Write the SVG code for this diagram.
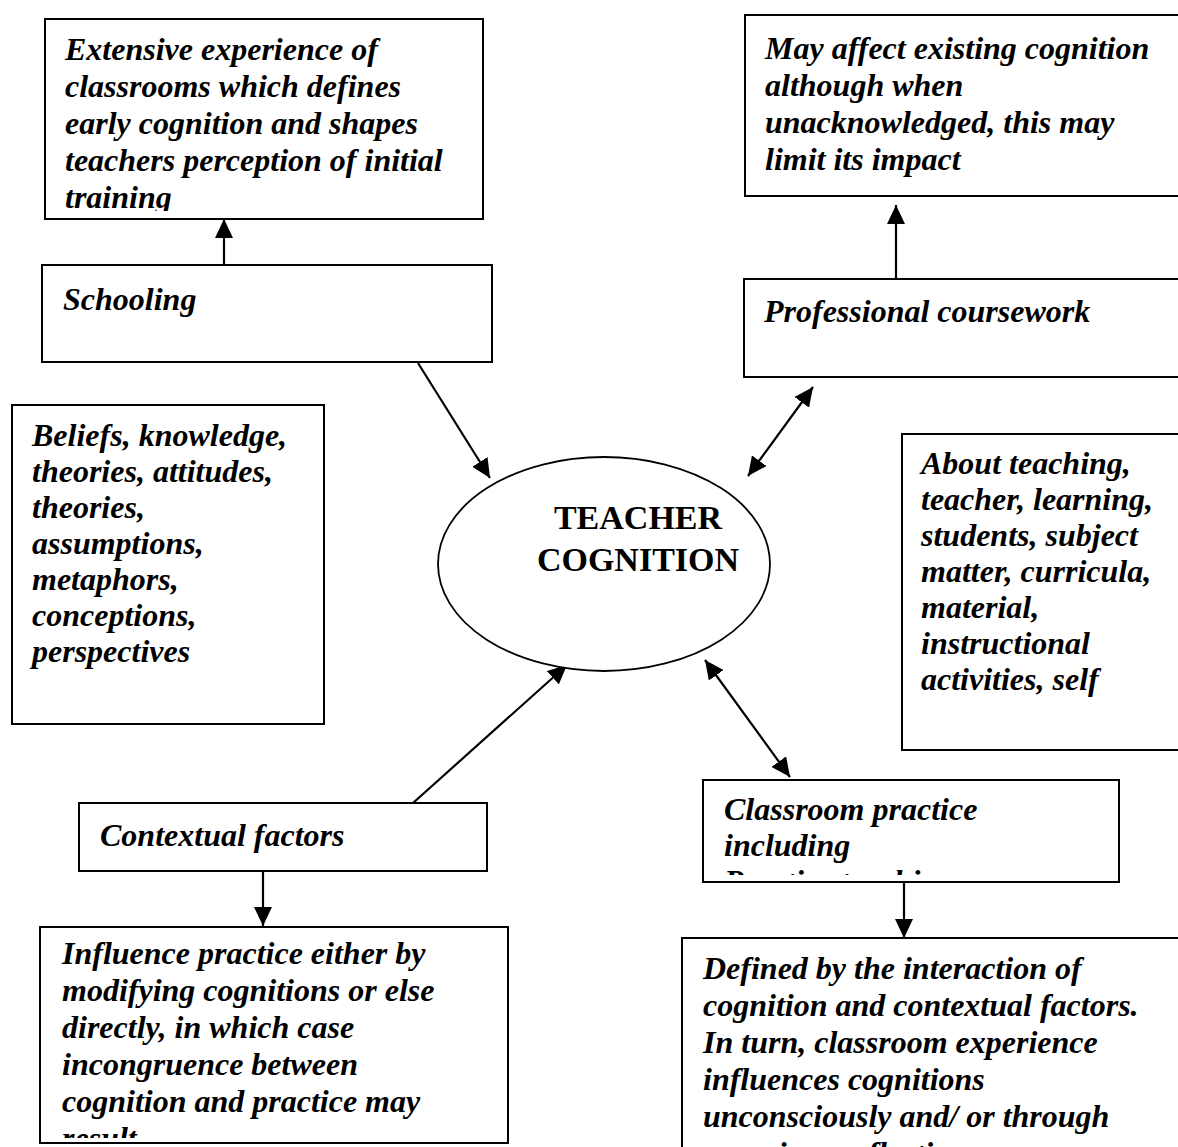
<svg xmlns="http://www.w3.org/2000/svg" width="1178" height="1147" viewBox="0 0 1178 1147">
  <style>
    .box { fill: #fff; stroke: #000; stroke-width: 2; }
    .note { font-family: "Liberation Serif", "Times New Roman", serif; font-size: 32px; font-weight: bold; font-style: italic; fill: #000; }
    .title { font-family: "Liberation Serif", "Times New Roman", serif; font-size: 34px; font-weight: bold; fill: #000; text-anchor: middle; }
    .link { stroke: #000; stroke-width: 2.2; fill: none; }
  </style>
  <defs>
    <marker id="head" viewBox="0 0 19 18" refX="19" refY="9" markerWidth="19" markerHeight="18" markerUnits="userSpaceOnUse" orient="auto-start-reverse">
      <path d="M0,0 L19,9 L0,18 Z" fill="#000"/>
    </marker>
    <clipPath id="clip-schooling-note"><rect x="46" y="20" width="436" height="191"/></clipPath>
    <clipPath id="clip-classroom"><rect x="704" y="781" width="414" height="94"/></clipPath>
    <clipPath id="clip-contextual-note"><rect x="41" y="928" width="466" height="210"/></clipPath>
  </defs>

  <rect width="1178" height="1147" fill="#fff"/>

  <!-- connectors -->
  <g id="connectors">
    <line class="link" x1="224" y1="265" x2="224" y2="219" marker-end="url(#head)"/>
    <line class="link" x1="418" y1="363" x2="490" y2="478" marker-end="url(#head)"/>
    <line class="link" x1="896" y1="279" x2="896" y2="205" marker-end="url(#head)"/>
    <line class="link" x1="748" y1="476" x2="813" y2="387" marker-start="url(#head)" marker-end="url(#head)"/>
    <line class="link" x1="705" y1="660" x2="790" y2="777" marker-start="url(#head)" marker-end="url(#head)"/>
    <line class="link" x1="413" y1="803" x2="567" y2="665" marker-end="url(#head)"/>
    <line class="link" x1="263" y1="871" x2="263" y2="926" marker-end="url(#head)"/>
    <line class="link" x1="904" y1="883" x2="904" y2="938" marker-end="url(#head)"/>
  </g>

  <!-- central concept -->
  <g id="teacher-cognition">
    <ellipse cx="604" cy="564" rx="166" ry="107" fill="#fff" stroke="#000" stroke-width="1.8"/>
    <text class="title" x="638" y="529">TEACHER</text>
    <text class="title" x="638" y="571">COGNITION</text>
  </g>

  <g id="schooling-note">
    <rect class="box" x="45" y="19" width="438" height="200"/>
    <g clip-path="url(#clip-schooling-note)">
      <text class="note" x="65" y="60">Extensive experience of</text>
      <text class="note" x="65" y="97">classrooms which defines</text>
      <text class="note" x="65" y="134">early cognition and shapes</text>
      <text class="note" x="65" y="171">teachers perception of initial</text>
      <text class="note" x="65" y="208">training</text>
    </g>
  </g>

  <g id="schooling">
    <rect class="box" x="42" y="265" width="450" height="97"/>
    <text class="note" x="63" y="310">Schooling</text>
  </g>

  <g id="beliefs">
    <rect class="box" x="12" y="405" width="312" height="319"/>
    <text class="note" x="32" y="446">Beliefs, knowledge,</text>
    <text class="note" x="32" y="482">theories, attitudes,</text>
    <text class="note" x="32" y="518">theories,</text>
    <text class="note" x="32" y="554">assumptions,</text>
    <text class="note" x="32" y="590">metaphors,</text>
    <text class="note" x="32" y="626">conceptions,</text>
    <text class="note" x="32" y="662">perspectives</text>
  </g>

  <g id="coursework-note">
    <rect class="box" x="745" y="15" width="450" height="181"/>
    <text class="note" x="765" y="59">May affect existing cognition</text>
    <text class="note" x="765" y="96">although when</text>
    <text class="note" x="765" y="133">unacknowledged, this may</text>
    <text class="note" x="765" y="170">limit its impact</text>
  </g>

  <g id="professional-coursework">
    <rect class="box" x="744" y="279" width="450" height="98"/>
    <text class="note" x="764" y="322">Professional coursework</text>
  </g>

  <g id="about">
    <rect class="box" x="902" y="434" width="290" height="316"/>
    <text class="note" x="921" y="474">About teaching,</text>
    <text class="note" x="921" y="510">teacher, learning,</text>
    <text class="note" x="921" y="546">students, subject</text>
    <text class="note" x="921" y="582">matter, curricula,</text>
    <text class="note" x="921" y="618">material,</text>
    <text class="note" x="921" y="654">instructional</text>
    <text class="note" x="921" y="690">activities, self</text>
  </g>

  <g id="contextual-factors">
    <rect class="box" x="79" y="803" width="408" height="68"/>
    <text class="note" x="100" y="846">Contextual factors</text>
  </g>

  <g id="contextual-note">
    <rect class="box" x="40" y="927" width="468" height="216"/>
    <g clip-path="url(#clip-contextual-note)">
      <text class="note" x="62" y="964">Influence practice either by</text>
      <text class="note" x="62" y="1001">modifying cognitions or else</text>
      <text class="note" x="62" y="1038">directly, in which case</text>
      <text class="note" x="62" y="1075">incongruence between</text>
      <text class="note" x="62" y="1112">cognition and practice may</text>
      <text class="note" x="62" y="1149">result.</text>
    </g>
  </g>

  <g id="classroom-practice">
    <rect class="box" x="703" y="780" width="416" height="102"/>
    <g clip-path="url(#clip-classroom)">
      <text class="note" x="724" y="820">Classroom practice</text>
      <text class="note" x="724" y="856">including</text>
      <text class="note" x="724" y="892">Practice teaching</text>
    </g>
  </g>

  <g id="classroom-note">
    <rect class="box" x="682" y="938" width="520" height="230"/>
    <text class="note" x="703" y="979">Defined by the interaction of</text>
    <text class="note" x="703" y="1016">cognition and contextual factors.</text>
    <text class="note" x="703" y="1053">In turn, classroom experience</text>
    <text class="note" x="703" y="1090">influences cognitions</text>
    <text class="note" x="703" y="1127">unconsciously and/ or through</text>
    <text class="note" x="703" y="1164">conscious reflection</text>
  </g>
</svg>
